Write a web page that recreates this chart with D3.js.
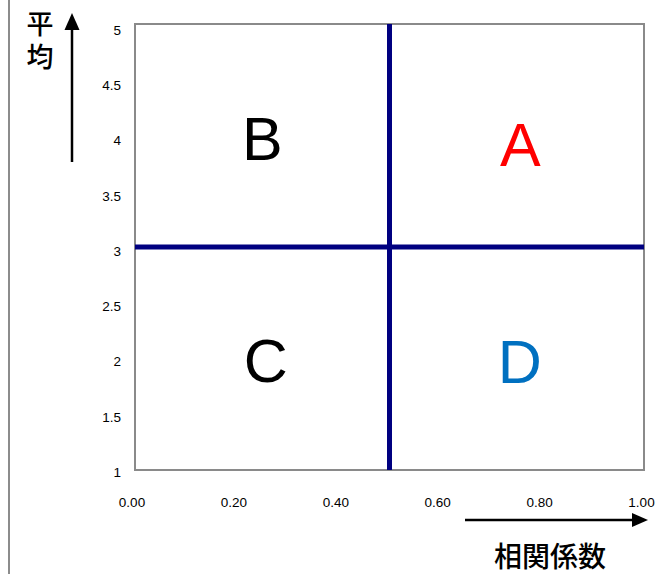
<!DOCTYPE html>
<html><head><meta charset="utf-8">
<script src="https://d3js.org/d3.v7.min.js"></script>
<style>html,body{margin:0;padding:0;background:#fff;}svg{display:block;}</style>
</head><body>
<svg id="c" width="666" height="574"></svg>
<script>
const xTicks = [0, 0.2, 0.4, 0.6, 0.8, 1.0];
const yTicks = [1, 1.5, 2, 2.5, 3, 3.5, 4, 4.5, 5];
const quadLabels = ["A", "B", "C", "D"];
const quadX = [0.757, 0.250, 0.257, 0.756];
const quadY = [3.92, 3.98, 1.99, 1.98];
const quadColors = ["#ff0000", "#000000", "#000000", "#0070c0"];
const dividerX = 0.5;
const dividerY = 3;
const xTitle = "相関係数";
const yTitle = "平均";

const svg = d3.select("#c");
const font = "Liberation Sans, Arial, sans-serif";
const jp = "Noto Sans CJK JP, sans-serif";

const x = d3.scaleLinear().domain([0, 1]).range([135, 644]);
const y = d3.scaleLinear().domain([1, 5]).range([470, 24]);
// tick label placement scales (labels sit slightly offset from gridline positions)
const xl = d3.scaleLinear().domain([0, 1]).range([132, 641.5]);
const yl = d3.scaleLinear().domain([1, 5]).range([472, 30]);

// outer left gray line
svg.append("line").attr("x1", 9).attr("x2", 9).attr("y1", 0).attr("y2", 574)
  .attr("stroke", "#8c8c8c").attr("stroke-width", 2);

// plot border
svg.append("rect").attr("x", x(0)).attr("y", y(5))
  .attr("width", x(1) - x(0)).attr("height", y(1) - y(5))
  .attr("fill", "none").attr("stroke", "#8a8a8a").attr("stroke-width", 2);

// divider lines
svg.append("line").attr("x1", x(dividerX)).attr("x2", x(dividerX))
  .attr("y1", y(5)).attr("y2", y(1)).attr("stroke", "#000080").attr("stroke-width", 5);
svg.append("line").attr("x1", x(0)).attr("x2", x(1))
  .attr("y1", y(dividerY)).attr("y2", y(dividerY)).attr("stroke", "#000080").attr("stroke-width", 5);

// y tick labels
svg.append("g").selectAll("text").data(yTicks).join("text")
  .attr("x", 121).attr("y", d => yl(d)).attr("dy", "0.36em")
  .attr("text-anchor", "end").attr("font-family", font).attr("font-size", 13.5)
  .attr("fill", "#000").text(d => d);

// x tick labels
svg.append("g").selectAll("text").data(xTicks).join("text")
  .attr("x", d => xl(d)).attr("y", 502).attr("dy", "0.36em")
  .attr("text-anchor", "middle").attr("font-family", font).attr("font-size", 13.5)
  .attr("fill", "#000").text(d => d3.format(".2f")(d));

// quadrant letters
svg.append("g").selectAll("text").data(quadLabels).join("text")
  .attr("x", (d, i) => x(quadX[i])).attr("y", (d, i) => y(quadY[i]) + 22)
  .attr("text-anchor", "middle").attr("font-family", font).attr("font-size", 61)
  .attr("fill", (d, i) => quadColors[i]).text(d => d);

// x arrow
svg.append("line").attr("x1", 465).attr("x2", 634).attr("y1", 520).attr("y2", 520)
  .attr("stroke", "#000").attr("stroke-width", 2.5);
svg.append("path").attr("d", "M648,520 L632,513 L632,527 Z").attr("fill", "#000");
// y arrow
svg.append("line").attr("x1", 72).attr("x2", 72).attr("y1", 162).attr("y2", 28)
  .attr("stroke", "#000").attr("stroke-width", 2.5);
svg.append("path").attr("d", "M72,13 L64.5,30 L79.5,30 Z").attr("fill", "#000");

// titles
svg.append("text").attr("x", 550).attr("y", 567).attr("text-anchor", "middle")
  .attr("font-family", jp).attr("font-size", 28).attr("font-weight", 500)
  .attr("fill", "#000").text(xTitle);
svg.append("text").attr("x", 40).attr("y", 10)
  .style("writing-mode", "vertical-rl").attr("letter-spacing", 6)
  .attr("font-family", jp).attr("font-size", 27).attr("font-weight", 500)
  .attr("fill", "#000").text(yTitle);
</script>
</body></html>
